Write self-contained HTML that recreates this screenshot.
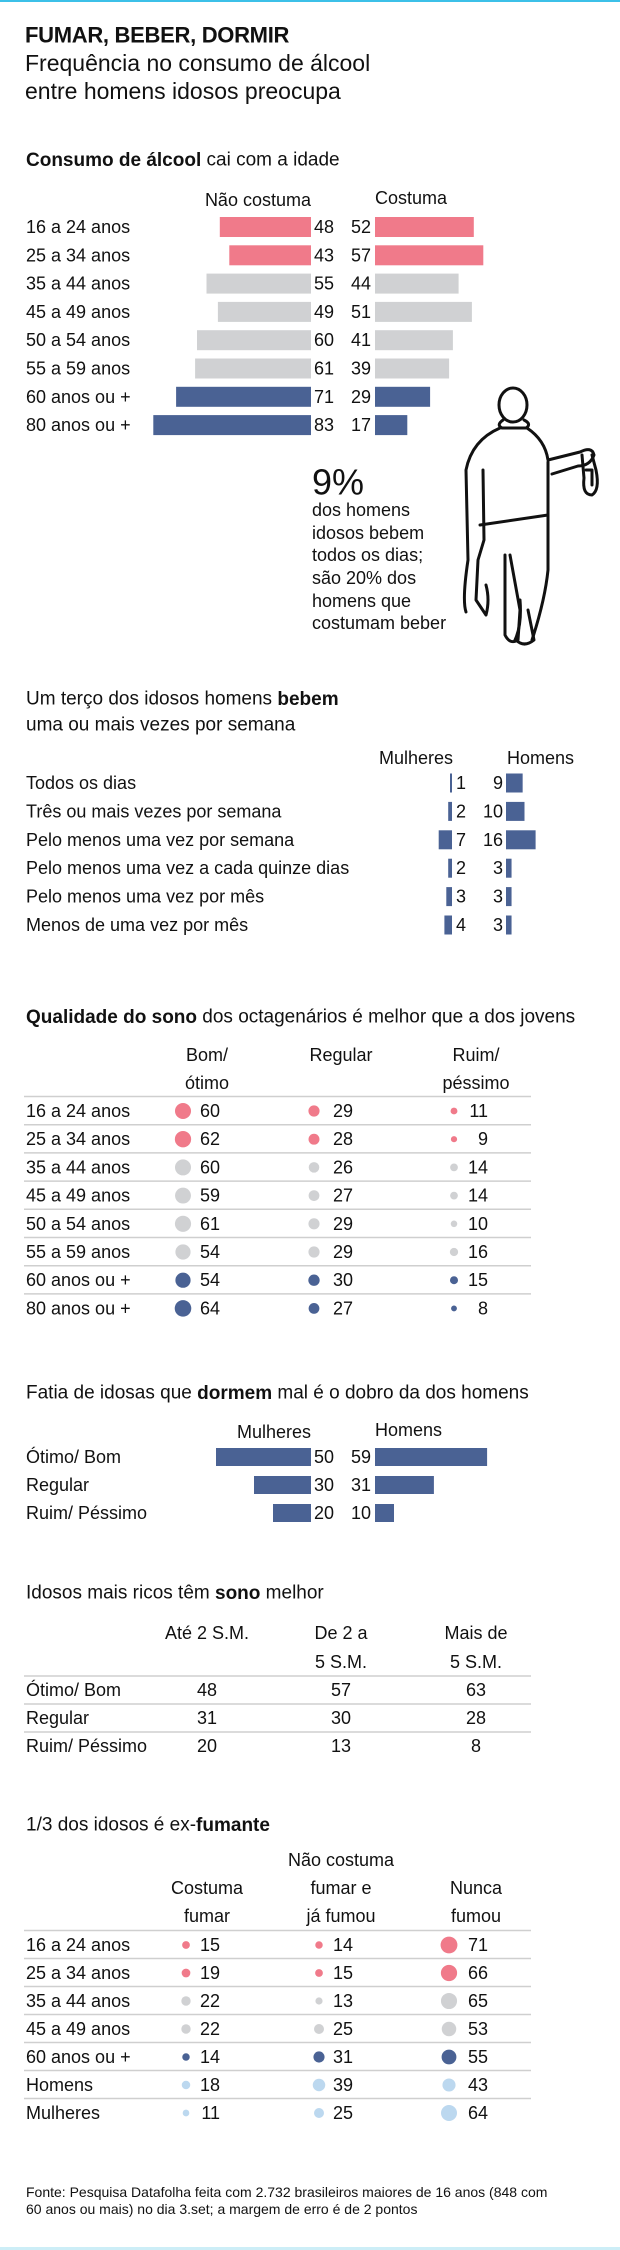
<!DOCTYPE html>
<html><head><meta charset="utf-8"><style>
html,body{margin:0;padding:0;background:#fff}
svg{display:block}
text{font-family:"Liberation Sans",sans-serif;fill:#111}
.l{font-size:18px}
.h{font-size:19px}
.b{font-weight:bold}
</style></head><body>
<svg width="620" height="2250" viewBox="0 0 620 2250" xmlns="http://www.w3.org/2000/svg">
<rect x="0" y="0" width="620" height="2" fill="#3cc0e8"/>
<rect x="0" y="2247" width="620" height="3" fill="#cdeef7"/>
<g dominant-baseline="central">
<text x="25" y="35" font-size="22" font-weight="bold" letter-spacing="-0.3">FUMAR, BEBER, DORMIR</text>
<text x="25" y="63" font-size="23">Frequência no consumo de álcool</text>
<text x="25" y="91" font-size="23">entre homens idosos preocupa</text>

<text x="26" y="160" class="h"><tspan class="b">Consumo de álcool</tspan> cai com a idade</text>
<text x="311" y="200" class="l" text-anchor="end">Não costuma</text>
<text x="375" y="198" class="l">Costuma</text>
</g>
<g id="s1"></g>

<g dominant-baseline="central">
<text x="312" y="482" font-size="36">9%</text>
<text x="312" y="510" class="l">dos homens</text>
<text x="312" y="533" class="l">idosos bebem</text>
<text x="312" y="555" class="l">todos os dias;</text>
<text x="312" y="578" class="l">são 20% dos</text>
<text x="312" y="601" class="l">homens que</text>
<text x="312" y="623" class="l">costumam beber</text>
</g>
<g fill="none" stroke="#111" stroke-width="3" stroke-linecap="round" stroke-linejoin="round">
<ellipse cx="513" cy="405" rx="14" ry="17"/>
<path d="M503 420 Q496 425 502 428 L526 428 Q532 424 524 420"/>
<path d="M500 428 Q472 440 466 470 L468 560 Q462 600 466 612"/>
<path d="M527 428 Q545 440 548 460 L580 452 Q592 446 594 455 Q590 466 578 466 L552 474"/>
<path d="M548 462 L548 570 Q545 600 532 640"/>
<path d="M483 470 L484 540 L478 560 L476 600 L486 615 Q490 600 486 585"/>
<path d="M480 525 L548 515"/>
<path d="M505 555 L505 635 Q510 645 518 640 L520 610 L510 555"/>
<path d="M520 600 Q522 625 515 640 M528 610 L534 640 Q524 648 516 640"/>
<path d="M582 455 L584 478 Q582 495 592 495 Q600 490 596 470 L592 455"/>
<path d="M586 470 L592 470 L592 485"/>
</g>

<g dominant-baseline="central">
<text x="26" y="699" class="h">Um terço dos idosos homens <tspan class="b">bebem</tspan></text>
<text x="26" y="725" class="h">uma ou mais vezes por semana</text>
<text x="453" y="758" class="l" text-anchor="end">Mulheres</text>
<text x="507" y="758" class="l">Homens</text>
</g>
<g id="s2"></g>

<g dominant-baseline="central">
<text x="26" y="1017" class="h" font-size="18.5"><tspan class="b">Qualidade do sono</tspan> dos octagenários é melhor que a dos jovens</text>
<text x="207" y="1055" class="l" text-anchor="middle">Bom/</text>
<text x="207" y="1083" class="l" text-anchor="middle">ótimo</text>
<text x="341" y="1055" class="l" text-anchor="middle">Regular</text>
<text x="476" y="1055" class="l" text-anchor="middle">Ruim/</text>
<text x="476" y="1083" class="l" text-anchor="middle">péssimo</text>
</g>
<g id="s3"></g>

<g dominant-baseline="central">
<text x="26" y="1393" class="h">Fatia de idosas que <tspan class="b">dormem</tspan> mal é o dobro da dos homens</text>
<text x="311" y="1432" class="l" text-anchor="end">Mulheres</text>
<text x="375" y="1430" class="l">Homens</text>
</g>
<g id="s4"></g>

<g dominant-baseline="central">
<text x="26" y="1593" class="h">Idosos mais ricos têm <tspan class="b">sono</tspan> melhor</text>
<text x="207" y="1633" class="l" text-anchor="middle">Até 2 S.M.</text>
<text x="341" y="1633" class="l" text-anchor="middle">De 2 a</text>
<text x="341" y="1662" class="l" text-anchor="middle">5 S.M.</text>
<text x="476" y="1633" class="l" text-anchor="middle">Mais de</text>
<text x="476" y="1662" class="l" text-anchor="middle">5 S.M.</text>
</g>
<g id="s5"></g>

<g dominant-baseline="central">
<text x="26" y="1825" class="h">1/3 dos idosos é ex-<tspan class="b">fumante</tspan></text>
<text x="341" y="1860" class="l" text-anchor="middle">Não costuma</text>
<text x="207" y="1888" class="l" text-anchor="middle">Costuma</text>
<text x="207" y="1916" class="l" text-anchor="middle">fumar</text>
<text x="341" y="1888" class="l" text-anchor="middle">fumar e</text>
<text x="341" y="1916" class="l" text-anchor="middle">já fumou</text>
<text x="476" y="1888" class="l" text-anchor="middle">Nunca</text>
<text x="476" y="1916" class="l" text-anchor="middle">fumou</text>
</g>
<g id="s6"></g>

<g dominant-baseline="central">
<text x="26" y="2192" font-size="14">Fonte: Pesquisa Datafolha feita com 2.732 brasileiros maiores de 16 anos (848 com</text>
<text x="26" y="2209" font-size="14">60 anos ou mais) no dia 3.set; a margem de erro é de 2 pontos</text>
</g>
</svg>
<script>
var NS="http://www.w3.org/2000/svg";
function el(p,t,a,txt){var e=document.createElementNS(NS,t);for(var k in a)e.setAttribute(k,a[k]);if(txt!==undefined)e.textContent=txt;p.appendChild(e);return e;}
var P="#f07a8a",G="#d0d1d3",B="#4a6294",L="#bcd8ef";
function T(p,x,y,s,anc,cls){return el(p,"text",{x:x,y:y,"dominant-baseline":"central","text-anchor":anc||"start","class":cls||"l"},s);}
var g=document.getElementById("s1");
var lab=["16 a 24 anos","25 a 34 anos","35 a 44 anos","45 a 49 anos","50 a 54 anos","55 a 59 anos","60 anos ou +","80 anos ou +"];
var L1=[48,43,55,49,60,61,71,83],R1=[52,57,44,51,41,39,29,17],C1=[P,P,G,G,G,G,B,B];
for(var i=0;i<8;i++){var y=227+i*28.3;T(g,26,y,lab[i]);
el(g,"rect",{x:311-L1[i]*1.9,y:y-10,width:L1[i]*1.9,height:20,fill:C1[i]});
el(g,"rect",{x:375,y:y-10,width:R1[i]*1.9,height:20,fill:C1[i]});
T(g,314,y,L1[i]);T(g,371,y,R1[i],"end");}
g=document.getElementById("s2");
var l2=["Todos os dias","Três ou mais vezes por semana","Pelo menos uma vez por semana","Pelo menos uma vez a cada quinze dias","Pelo menos uma vez por mês","Menos de uma vez por mês"];
var W2=[1,2,7,2,3,4],M2=[9,10,16,3,3,3];
for(i=0;i<6;i++){y=783+i*28.4;T(g,26,y,l2[i]);
el(g,"rect",{x:452-Math.max(2,W2[i]*1.9),y:y-9.5,width:Math.max(2,W2[i]*1.9),height:19,fill:B});
el(g,"rect",{x:506,y:y-9.5,width:Math.max(3,M2[i]*1.85),height:19,fill:B});
T(g,456,y,W2[i]);T(g,503,y,M2[i],"end");}
g=document.getElementById("s3");
var V3=[[60,29,11],[62,28,9],[60,26,14],[59,27,14],[61,29,10],[54,29,16],[54,30,15],[64,27,8]];
var dx=[183,314,454],vx=[220,353,488];
for(i=0;i<8;i++){y=1111+i*28.2;el(g,"line",{x1:24,x2:531,y1:y-14.5,y2:y-14.5,stroke:"#cfcfcf","stroke-width":1.5});
T(g,26,y,lab[i]);for(var j=0;j<3;j++){el(g,"circle",{cx:dx[j],cy:y,r:1.035*Math.sqrt(V3[i][j]),fill:C1[i]});T(g,vx[j],y,V3[i][j],"end");}}
g=document.getElementById("s4");
var l4=["Ótimo/ Bom","Regular","Ruim/ Péssimo"],V4=[[50,59],[30,31],[20,10]];
for(i=0;i<3;i++){y=1457+i*28;T(g,26,y,l4[i]);
el(g,"rect",{x:311-V4[i][0]*1.9,y:y-9,width:V4[i][0]*1.9,height:18,fill:B});
el(g,"rect",{x:375,y:y-9,width:V4[i][1]*1.9,height:18,fill:B});
T(g,314,y,V4[i][0]);T(g,371,y,V4[i][1],"end");}
g=document.getElementById("s5");
var V5=[[48,57,63],[31,30,28],[20,13,8]],cx=[207,341,476];
for(i=0;i<3;i++){y=1690+i*28;el(g,"line",{x1:24,x2:531,y1:y-14,y2:y-14,stroke:"#cfcfcf","stroke-width":1.5});
T(g,26,y,l4[i]);for(j=0;j<3;j++)T(g,cx[j],y,V5[i][j],"middle");}
g=document.getElementById("s6");
var l6=["16 a 24 anos","25 a 34 anos","35 a 44 anos","45 a 49 anos","60 anos ou +","Homens","Mulheres"];
var V6=[[15,14,71],[19,15,66],[22,13,65],[22,25,53],[14,31,55],[18,39,43],[11,25,64]],C6=[P,P,G,G,B,L,L];
var dx6=[186,319,449];
for(i=0;i<7;i++){y=1945+i*28;el(g,"line",{x1:24,x2:531,y1:y-14.5,y2:y-14.5,stroke:"#cfcfcf","stroke-width":1.5});
T(g,26,y,l6[i]);for(j=0;j<3;j++){el(g,"circle",{cx:dx6[j],cy:y,r:1.0*Math.sqrt(V6[i][j]),fill:C6[i]});T(g,vx[j],y,V6[i][j],"end");}}
</script>
</body></html>
